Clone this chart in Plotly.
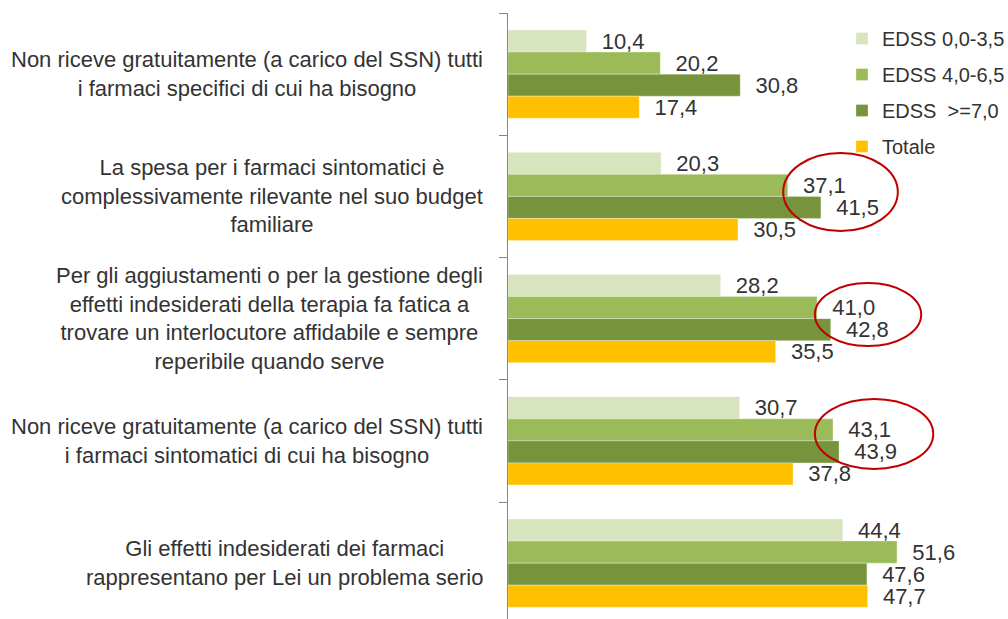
import plotly.graph_objects as go

W, H = 1008, 619

categories = [
    "Non riceve gratuitamente (a carico del SSN) tutti<br>i farmaci specifici di cui ha bisogno",
    "La spesa per i farmaci sintomatici è<br>complessivamente rilevante nel suo budget<br>familiare",
    "Per gli aggiustamenti o per la gestione degli<br>effetti indesiderati della terapia fa fatica a<br>trovare un interlocutore affidabile e sempre<br>reperibile quando serve",
    "Non riceve gratuitamente (a carico del SSN) tutti<br>i farmaci sintomatici di cui ha bisogno",
    "Gli effetti indesiderati dei farmaci<br>rappresentano per Lei un problema serio",
]

series_names = ["EDSS 0,0-3,5", "EDSS 4,0-6,5", "EDSS\u00a0 >=7,0", "Totale"]
edss_low = [10.4, 20.3, 28.2, 30.7, 44.4]
edss_mid = [20.2, 37.1, 41.0, 43.1, 51.6]
edss_high = [30.8, 41.5, 42.8, 43.9, 47.6]
totale = [17.4, 30.5, 35.5, 37.8, 47.7]
series_values = [edss_low, edss_mid, edss_high, totale]
colors = ["#D7E4BD", "#9BBB59", "#77933C", "#FFC000"]

# highlight ellipses (data units: x value range, y category-position range)
highlights = [
    (36.5, 51.7, 0.645, 1.283),
    (40.7, 54.8, 1.709, 2.224),
    (40.7, 56.4, 2.657, 3.230),
]

FONT = "Liberation Sans, Arial, sans-serif"
TXT = "#333333"

# plot area geometry
x0_px = 508
top_px = 13
px_per_unit = 7.54
px_per_cat = 122.25

ypos = list(range(len(categories)))

fig = go.Figure()
for name, vals, col in zip(series_names, series_values, colors):
    fig.add_trace(go.Bar(
        y=ypos, x=vals, orientation="h", name=name,
        marker=dict(color=col, line=dict(color="rgba(255,255,255,0.6)", width=0.5)),
        text=["\u00a0\u00a0" + f"{v:.1f}".replace(".", ",") for v in vals],
        textposition="outside", constraintext="none", cliponaxis=False,
        textfont=dict(family=FONT, size=22, color=TXT),
        legendgroup=name,
    ))

x_range_max = (W - x0_px) / px_per_unit
y_bottom = -0.5 + (H - top_px) / px_per_cat

fig.update_layout(
    width=W, height=H,
    margin=dict(l=0, r=0, t=0, b=0, pad=0, autoexpand=False),
    paper_bgcolor="white", plot_bgcolor="white",
    barmode="group", bargap=0.28, bargroupgap=0,
    font=dict(family=FONT, size=22, color=TXT),
    showlegend=True,
    legend=dict(
        x=842 / W, y=1 - 19 / H, xanchor="left", yanchor="top",
        traceorder="grouped", tracegroupgap=7,
        font=dict(family=FONT, size=20, color=TXT),
        bgcolor="rgba(0,0,0,0)",
    ),
    xaxis=dict(
        domain=[x0_px / W, 1], range=[0, x_range_max],
        showgrid=False, zeroline=False, showline=False,
        showticklabels=False, ticks="", automargin=False,
    ),
    yaxis=dict(
        domain=[0, 1 - top_px / H], range=[y_bottom, -0.5],
        showgrid=False, zeroline=False, showline=True,
        linecolor="#868686", linewidth=1,
        tickmode="array", tickvals=[i - 0.5 for i in range(len(categories) + 1)],
        ticks="outside", ticklen=8, tickcolor="#868686", tickwidth=1,
        showticklabels=False, automargin=False,
    ),
)

for i, cat in enumerate(categories):
    fig.add_annotation(
        text=cat, xref="paper", yref="y", x=485 / W, y=i,
        xanchor="right", yanchor="middle", align="center", showarrow=False,
        font=dict(family=FONT, size=22, color=TXT),
    )

for xa, xb, ya, yb in highlights:
    fig.add_shape(type="circle", xref="x", yref="y", x0=xa, x1=xb, y0=ya, y1=yb,
                  line=dict(color="#C00000", width=2))

fig.write_html(
    "out.html",
    config={"displayModeBar": False},
    post_script="document.body.style.margin='0';document.body.style.overflow='hidden';",
)
